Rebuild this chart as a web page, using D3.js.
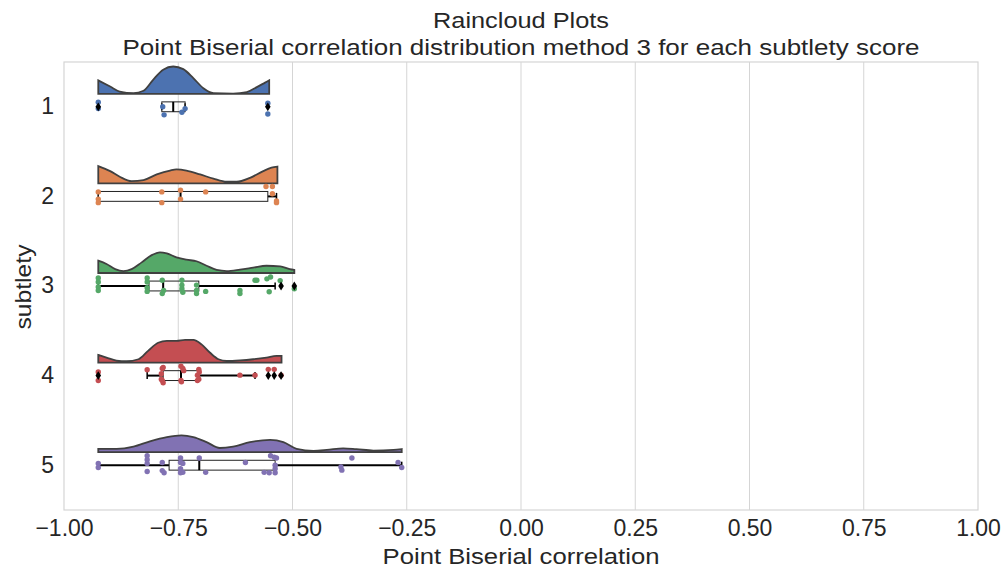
<!DOCTYPE html>
<html>
<head>
<meta charset="utf-8">
<script src="https://cdn.jsdelivr.net/npm/d3@7"></script>
<style>
  body { margin: 0; background: #fff; }
  text { font-family: "Liberation Sans", Arial, sans-serif; fill: #262626; }
</style>
</head>
<body>
<svg id="chart" width="1007" height="570"></svg>
<script>
// subtlety scores and the seaborn "deep" colours
var categories = [1, 2, 3, 4, 5];
var colors = ["#4c72b0", "#dd8452", "#55a868", "#c44e52", "#8172b3"];
var xTicks = [-1, -0.75, -0.5, -0.25, 0, 0.25, 0.5, 0.75, 1];

// half-violin outlines: [correlation, density]
var cloud1 = [[-0.925,4.8],[-0.899,2.6],[-0.878,0.8],[-0.848,0.25],[-0.826,1.1],[-0.805,5.0],[-0.783,8.6],[-0.761,9.75],[-0.739,8.8],[-0.717,5.6],[-0.695,2.0],[-0.673,0.25],[-0.630,0.1],[-0.600,0.6],[-0.578,2.4],[-0.560,4.0],[-0.551,4.8]];
var cloud2 = [[-0.925,6.2],[-0.899,4.4],[-0.878,2.4],[-0.852,0.8],[-0.826,1.2],[-0.797,3.2],[-0.768,4.6],[-0.754,5.0],[-0.732,4.6],[-0.702,3.2],[-0.673,1.7],[-0.644,0.6],[-0.622,0.6],[-0.593,2.0],[-0.564,4.4],[-0.546,5.6],[-0.533,6.0]];
var cloud3 = [[-0.925,4.4],[-0.907,3.2],[-0.888,1.4],[-0.870,0.7],[-0.852,1.4],[-0.830,3.8],[-0.808,6.4],[-0.790,7.4],[-0.775,7.0],[-0.754,5.6],[-0.732,4.75],[-0.710,4.2],[-0.688,2.6],[-0.666,1.1],[-0.644,0.7],[-0.615,1.2],[-0.586,1.9],[-0.557,2.6],[-0.527,2.4],[-0.506,1.4],[-0.496,1.1]];
var cloud4 = [[-0.925,2.75],[-0.907,1.8],[-0.885,0.7],[-0.863,0.5],[-0.837,1.2],[-0.816,4.2],[-0.794,7.1],[-0.775,7.75],[-0.754,7.75],[-0.735,8.1],[-0.717,8.1],[-0.699,6.5],[-0.681,3.6],[-0.662,1.2],[-0.644,0.6],[-0.615,0.8],[-0.586,1.2],[-0.557,1.8],[-0.535,2.4],[-0.524,2.4]];
var cloud5 = [[-0.925,1.2],[-0.885,1.2],[-0.848,2.0],[-0.812,3.9],[-0.775,5.4],[-0.743,6.0],[-0.717,5.4],[-0.688,3.6],[-0.659,1.5],[-0.630,2.0],[-0.593,3.6],[-0.549,4.4],[-0.520,3.6],[-0.491,1.2],[-0.454,0.5],[-0.425,0.8],[-0.389,1.4],[-0.360,1.1],[-0.323,0.6],[-0.279,0.8],[-0.261,1.1]];

// rain points: [correlation, jitter in category units]
var rain1 = [[-0.925,-0.05],[-0.925,0.02],[-0.784,0.0],[-0.781,0.09],[-0.742,0.06],[-0.735,0.02],[-0.554,0.08],[-0.554,-0.04]];
var rain2 = [[-0.925,-0.05],[-0.925,0.03],[-0.925,0.07],[-0.786,-0.05],[-0.786,0.07],[-0.745,-0.07],[-0.745,0.03],[-0.690,-0.05],[-0.558,-0.11],[-0.544,-0.11],[-0.544,-0.03],[-0.535,0.07],[-0.535,0.05]];
var rain3 = [[-0.925,-0.09],[-0.925,-0.045],[-0.925,0.01],[-0.925,0.05],[-0.818,-0.09],[-0.818,-0.045],[-0.818,0.02],[-0.818,0.06],[-0.785,-0.065],[-0.782,0.05],[-0.785,0.085],[-0.742,-0.065],[-0.742,-0.01],[-0.742,0.03],[-0.740,0.07],[-0.710,-0.01],[-0.710,0.05],[-0.710,0.085],[-0.690,0.06],[-0.615,0.05],[-0.615,0.085],[-0.582,-0.065],[-0.578,-0.065],[-0.556,-0.08],[-0.548,-0.1],[-0.551,0.065],[-0.527,-0.06],[-0.496,0.03]];
var rain4 = [[-0.925,-0.04],[-0.925,0.055],[-0.818,-0.065],[-0.785,-0.08],[-0.783,-0.09],[-0.787,-0.02],[-0.785,0.055],[-0.783,0.08],[-0.787,0.04],[-0.744,-0.105],[-0.740,-0.08],[-0.738,-0.055],[-0.744,0.055],[-0.743,0.07],[-0.705,-0.07],[-0.704,-0.04],[-0.708,-0.005],[-0.705,0.04],[-0.708,0.055],[-0.615,-0.005],[-0.582,-0.005],[-0.553,-0.07],[-0.540,-0.07],[-0.525,-0.005]];
var rain5 = [[-0.925,-0.02],[-0.925,0.025],[-0.818,-0.105],[-0.818,-0.06],[-0.818,-0.02],[-0.818,0.07],[-0.785,-0.03],[-0.785,0.06],[-0.781,0.085],[-0.745,-0.08],[-0.745,-0.03],[-0.745,0.04],[-0.745,0.085],[-0.740,-0.02],[-0.740,0.08],[-0.704,-0.08],[-0.690,0.08],[-0.603,-0.03],[-0.562,0.08],[-0.551,0.085],[-0.548,-0.105],[-0.540,-0.09],[-0.535,-0.08],[-0.538,0.0],[-0.538,0.04],[-0.538,0.085],[-0.394,0.02],[-0.392,0.055],[-0.370,-0.08],[-0.269,-0.03],[-0.261,0.025]];

// box stats: [lower whisker, q1, median, q3, upper whisker]
var boxStats = [
  [-0.786, -0.786, -0.761, -0.735, -0.735],
  [-0.925, -0.925, -0.745, -0.554, -0.535],
  [-0.925, -0.814, -0.783, -0.705, -0.538],
  [-0.818, -0.783, -0.744, -0.704, -0.582],
  [-0.925, -0.770, -0.704, -0.538, -0.261]
];
var outliers = [[-0.925, -0.554], [], [-0.525, -0.496], [-0.925, -0.553, -0.540, -0.525], []];

var clouds = [cloud1, cloud2, cloud3, cloud4, cloud5];
var rains = [rain1, rain2, rain3, rain4, rain5];

var svg = d3.select("#chart"),
    margin = {top: 62, right: 29, bottom: 60, left: 64},
    width = 1007 - margin.left - margin.right,
    height = 570 - margin.top - margin.bottom,
    g = svg.append("g").attr("transform", "translate(" + margin.left + "," + margin.top + ")");

var x = d3.scaleLinear().domain([-1, 1]).range([0, width]);
var y = d3.scaleBand().domain(categories).range([0, height]).padding(0);
var h = d3.scaleLinear().domain([0, 10]).range([0, 28]);

var bw = y.bandwidth();
function mid(c) { return y(c) + bw / 2; }

// grid + frame
g.selectAll(".grid")
  .data(xTicks.slice(1, -1))
  .enter().append("line")
    .attr("x1", function(d) { return x(d); })
    .attr("x2", function(d) { return x(d); })
    .attr("y1", 0).attr("y2", height)
    .attr("stroke", "#d5d5d5").attr("stroke-width", 1);

g.append("rect")
  .attr("width", width).attr("height", height)
  .attr("fill", "none").attr("stroke", "#d5d5d5").attr("stroke-width", 1.2);

// axes
var xAxis = g.append("g")
  .attr("transform", "translate(0," + height + ")")
  .call(d3.axisBottom(x).tickValues(xTicks).tickFormat(d3.format(".2f")).tickSize(0).tickPadding(10));
xAxis.select(".domain").remove();
xAxis.selectAll("text").attr("font-size", 23).attr("fill", "#262626");

var yAxis = g.append("g")
  .call(d3.axisLeft(y).tickSize(0).tickPadding(10));
yAxis.select(".domain").remove();
yAxis.selectAll("text").attr("font-size", 23).attr("fill", "#262626");

svg.append("text")
  .attr("x", margin.left + width / 2).attr("y", 564)
  .attr("text-anchor", "middle").attr("font-size", 22.5)
  .attr("textLength", 277).attr("lengthAdjust", "spacingAndGlyphs")
  .text("Point Biserial correlation");

svg.append("text")
  .attr("transform", "translate(31," + (margin.top + height / 2 + 1) + ") rotate(-90)")
  .attr("text-anchor", "middle").attr("font-size", 22.5)
  .attr("textLength", 85).attr("lengthAdjust", "spacingAndGlyphs")
  .text("subtlety");

svg.append("text")
  .attr("x", margin.left + width / 2).attr("y", 28)
  .attr("text-anchor", "middle").attr("font-size", 22.5)
  .attr("textLength", 176).attr("lengthAdjust", "spacingAndGlyphs")
  .text("Raincloud Plots");
svg.append("text")
  .attr("x", margin.left + width / 2).attr("y", 55)
  .attr("text-anchor", "middle").attr("font-size", 22.5)
  .attr("textLength", 797).attr("lengthAdjust", "spacingAndGlyphs")
  .text("Point Biserial correlation distribution method 3 for each subtlety score");

// clouds
categories.forEach(function(c, i) {
  var base = mid(c) - 0.145 * bw;
  var area = d3.area()
    .x(function(d) { return x(d[0]); })
    .y0(base)
    .y1(function(d) { return base - h(d[1]); })
    .curve(d3.curveMonotoneX);
  g.append("path")
    .datum(clouds[i])
    .attr("d", area)
    .attr("fill", colors[i])
    .attr("stroke", "#404040")
    .attr("stroke-width", 1.8);
});

// boxes
var bh = 0.055 * bw, capH = 3.5;
categories.forEach(function(c, i) {
  var s = boxStats[i], cy = mid(c);
  var box = g.append("g");
  box.append("line")
    .attr("x1", x(s[0])).attr("x2", x(s[1]))
    .attr("y1", cy).attr("y2", cy)
    .attr("stroke", "#000").attr("stroke-width", 2);
  box.append("line")
    .attr("x1", x(s[3])).attr("x2", x(s[4]))
    .attr("y1", cy).attr("y2", cy)
    .attr("stroke", "#000").attr("stroke-width", 2);
  [s[0], s[4]].forEach(function(v) {
    box.append("line")
      .attr("x1", x(v)).attr("x2", x(v))
      .attr("y1", cy - capH).attr("y2", cy + capH)
      .attr("stroke", "#000").attr("stroke-width", 1.5);
  });
  box.append("rect")
    .attr("x", x(s[1])).attr("y", cy - bh)
    .attr("width", x(s[3]) - x(s[1])).attr("height", 2 * bh)
    .attr("fill", "none").attr("stroke", "#222").attr("stroke-width", 1);
  box.append("line")
    .attr("x1", x(s[2])).attr("x2", x(s[2]))
    .attr("y1", cy - bh).attr("y2", cy + bh)
    .attr("stroke", "#000").attr("stroke-width", 2);
});

// rain
categories.forEach(function(c, i) {
  g.append("g").selectAll("circle")
    .data(rains[i])
    .enter().append("circle")
      .attr("cx", function(d) { return x(d[0]); })
      .attr("cy", function(d) { return mid(c) + d[1] * bw; })
      .attr("r", 2.7)
      .attr("fill", colors[i]);
});

// outliers as thin diamonds
categories.forEach(function(c, i) {
  var cy = mid(c);
  g.append("g").selectAll("path")
    .data(outliers[i])
    .enter().append("path")
      .attr("d", function(d) {
        var px = x(d);
        return "M" + px + "," + (cy - 4.4) + "L" + (px + 2.8) + "," + cy +
               "L" + px + "," + (cy + 4.4) + "L" + (px - 2.8) + "," + cy + "Z";
      })
      .attr("fill", "#000");
});
</script>
</body>
</html>
